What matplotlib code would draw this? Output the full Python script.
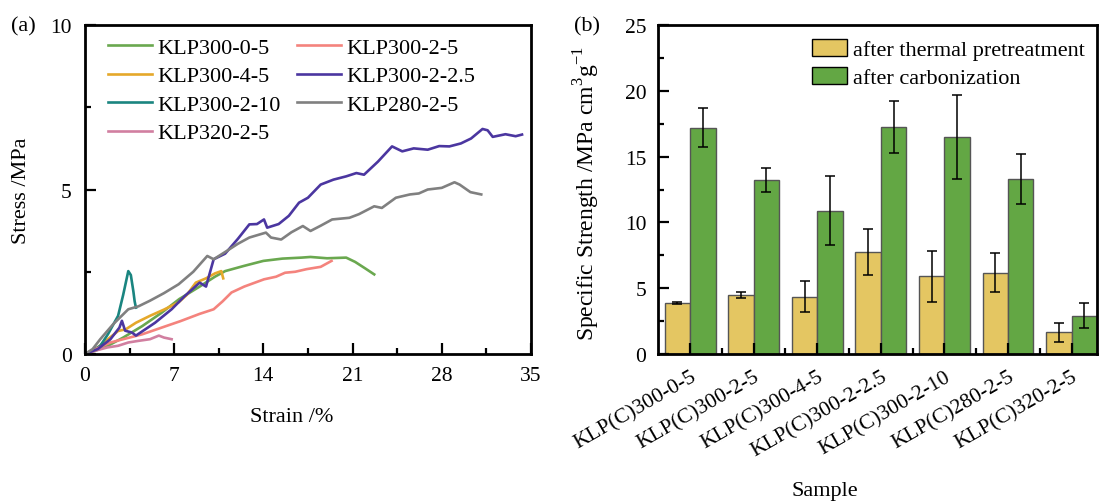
import numpy as np
import matplotlib
matplotlib.use('Agg')
import matplotlib.pyplot as plt
import matplotlib.transforms as mtransforms
from matplotlib.ticker import MultipleLocator

plt.rcParams['font.family'] = ['Liberation Serif', 'DejaVu Serif']
plt.rcParams['mathtext.fontset'] = 'custom'
plt.rcParams['mathtext.rm'] = 'Liberation Serif'

# ---- panel (a): stress-strain curves ----
x_300_0_5 = [0, 0.8, 1.8, 3.0, 4.5, 6.0, 7.4, 9.0, 10.2, 11.0, 12.5, 14.0, 15.5, 17.0, 17.7, 19.0, 20.5, 21.2, 22.0, 22.7]
y_300_0_5 = [0, 0.1, 0.25, 0.5, 0.85, 1.25, 1.67, 2.05, 2.35, 2.52, 2.68, 2.83, 2.9, 2.93, 2.95, 2.91, 2.93, 2.8, 2.6, 2.42]

x_300_4_5 = [0, 1.0, 1.8, 2.6, 3.2, 4.0, 5.1, 6.2, 7.35, 8.0, 8.7, 9.5, 10.2, 10.7, 10.85]
y_300_4_5 = [0, 0.2, 0.45, 0.7, 0.75, 0.95, 1.16, 1.35, 1.57, 1.8, 2.17, 2.3, 2.45, 2.52, 2.3]

x_300_2_10 = [0, 0.5, 1.2, 1.8, 2.3, 2.6, 3.0, 3.4, 3.6, 3.8, 3.9, 4.0]
y_300_2_10 = [0, 0.08, 0.25, 0.6, 0.95, 1.16, 1.8, 2.52, 2.4, 1.9, 1.6, 1.41]

x_320_2_5 = [0, 0.8, 1.76, 2.6, 3.4, 4.2, 5.1, 5.8, 6.2, 6.8]
y_320_2_5 = [0, 0.1, 0.2, 0.25, 0.35, 0.4, 0.45, 0.56, 0.5, 0.45]

x_300_2_5 = [0, 1.0, 2.0, 3.0, 4.5, 6.0, 7.5, 9.0, 10.1, 10.8, 11.5, 12.5, 14.05, 15.0, 15.7, 16.5, 17.4, 18.5, 19.35]
y_300_2_5 = [0, 0.18, 0.35, 0.45, 0.6, 0.8, 1.0, 1.22, 1.36, 1.6, 1.87, 2.05, 2.27, 2.35, 2.47, 2.5, 2.58, 2.65, 2.83]

x_300_2_2_5 = [0, 1.0, 2.0, 2.7, 2.9, 3.15, 3.7, 4.0, 5.5, 6.8, 7.8, 9.0, 9.5, 10.1, 11.0, 12.0, 12.9, 13.5, 14.05, 14.3,
               15.2, 16.0, 16.8, 17.5, 18.5, 19.5, 20.5, 21.3, 21.9, 23.0, 24.1, 24.9, 25.8, 26.9, 27.8, 28.6, 29.5, 30.3, 31.2, 31.6, 32.0, 33.0, 33.8, 34.3]
y_300_2_2_5 = [0, 0.15, 0.45, 0.8, 1.01, 0.71, 0.65, 0.56, 0.95, 1.36, 1.75, 2.17, 2.05, 2.88, 3.05, 3.5, 3.94, 3.95, 4.09, 3.84,
               3.95, 4.2, 4.6, 4.75, 5.15, 5.3, 5.4, 5.5, 5.45, 5.85, 6.31, 6.16, 6.25, 6.21, 6.32, 6.31, 6.4, 6.55, 6.84, 6.8, 6.6, 6.68, 6.62, 6.67]

x_280_2_5 = [0, 0.6, 1.2, 2.2, 3.4, 4.2, 5.1, 6.2, 7.35, 8.5, 9.6, 10.1, 11.2, 12.0, 12.9, 14.2, 14.6, 15.4, 16.2, 17.1, 17.7,
             18.5, 19.4, 20.75, 21.5, 22.7, 23.3, 24.4, 25.5, 26.2, 26.9, 28.0, 29.0, 29.4, 30.25, 31.1]
y_280_2_5 = [0, 0.15, 0.45, 0.9, 1.36, 1.45, 1.62, 1.85, 2.12, 2.5, 2.98, 2.88, 3.15, 3.35, 3.54, 3.69, 3.54, 3.48, 3.7, 3.89, 3.74,
             3.9, 4.09, 4.14, 4.25, 4.49, 4.44, 4.75, 4.85, 4.88, 5.0, 5.05, 5.22, 5.15, 4.92, 4.85]

curves = [
    ('KLP300-0-5', x_300_0_5, y_300_0_5, '#6aa84f'),
    ('KLP300-4-5', x_300_4_5, y_300_4_5, '#e5a82a'),
    ('KLP300-2-10', x_300_2_10, y_300_2_10, '#1a8580'),
    ('KLP320-2-5', x_320_2_5, y_320_2_5, '#d17fa0'),
    ('KLP300-2-5', x_300_2_5, y_300_2_5, '#f4837d'),
    ('KLP300-2-2.5', x_300_2_2_5, y_300_2_2_5, '#4b36a0'),
    ('KLP280-2-5', x_280_2_5, y_280_2_5, '#808080'),
]

# ---- panel (b): specific strength bars ----
samples = ['KLP(C)300-0-5', 'KLP(C)300-2-5', 'KLP(C)300-4-5', 'KLP(C)300-2-2.5',
           'KLP(C)300-2-10', 'KLP(C)280-2-5', 'KLP(C)320-2-5']
pretreat = [3.86, 4.49, 4.36, 7.72, 5.89, 6.19, 1.65]
pretreat_err = [0.08, 0.2, 1.18, 1.75, 1.9, 1.5, 0.7]
carbon = [17.2, 13.22, 10.89, 17.26, 16.47, 13.3, 2.92]
carbon_err = [1.5, 0.94, 2.64, 1.95, 3.2, 1.9, 0.95]


def style_axes(ax):
    for s in ax.spines.values():
        s.set_linewidth(2)
    ax.tick_params(which='both', direction='in', top=False, right=False, labelsize=15.5, width=1.6)
    ax.tick_params(which='major', length=8)
    ax.tick_params(which='minor', length=4.5)
    ax.tick_params(axis='x', which='major', pad=8.5)
    ax.tick_params(axis='y', which='major', pad=9.5)


fig = plt.figure(figsize=(11.02, 5.02), dpi=100)
ax1 = fig.add_axes([0.0771, 0.2928, 0.4047, 0.6554])
ax2 = fig.add_axes([0.5971, 0.2928, 0.3984, 0.6554])

for label, xs, ys, c in curves:
    ax1.plot(xs, ys, color=c, lw=1.9, label=label)

ax1.set_xlim(0, 35)
ax1.set_ylim(0, 10)
ax1.xaxis.set_major_locator(MultipleLocator(7))
ax1.xaxis.set_minor_locator(MultipleLocator(3.5))
ax1.yaxis.set_major_locator(MultipleLocator(5))
ax1.yaxis.set_minor_locator(MultipleLocator(2.5))
style_axes(ax1)
ax1.set_xlabel('Strain /%', fontsize=16)
ax1.xaxis.set_label_coords(0.464, -0.16)
ax1.set_ylabel('Stress /MPa', fontsize=16)
ax1.yaxis.set_label_coords(-0.121, 0.5)
ax1.legend(ncol=2, loc='upper left', frameon=False, fontsize=16, handlelength=2.0,
           handletextpad=0.23, columnspacing=0.72, labelspacing=0.36,
           borderpad=0, borderaxespad=0, bbox_to_anchor=(0.0516, 0.963))
fig.text(23 / 1102, 1 - 27 / 502, '(a)', fontsize=16, va='center', ha='center')

pos = np.arange(len(samples))
w = 0.4
ax2.bar(pos - w / 2, pretreat, w, yerr=pretreat_err, color='#e4c662', edgecolor='#555555', lw=1,
        error_kw=dict(ecolor='black', elinewidth=1.1, capsize=3.6, capthick=1.1),
        label='after thermal pretreatment')
ax2.bar(pos + w / 2, carbon, w, yerr=carbon_err, color='#63a744', edgecolor='#555555', lw=1,
        error_kw=dict(ecolor='black', elinewidth=1.1, capsize=3.6, capthick=1.1),
        label='after carbonization')

ax2.set_xlim(-0.505, 6.4)
ax2.set_ylim(0, 25)
ax2.set_xticks(pos)
ax2.set_xticks(pos[:-1] + 0.5, minor=True)
ax2.set_xticklabels(samples, rotation=30, ha='right', va='top', rotation_mode='anchor', fontsize=16.5)
shift = mtransforms.ScaledTranslation(0.08, 0, fig.dpi_scale_trans)
for t in ax2.get_xticklabels():
    t.set_transform(t.get_transform() + shift)
ax2.yaxis.set_major_locator(MultipleLocator(5))
ax2.yaxis.set_minor_locator(MultipleLocator(2.5))
style_axes(ax2)
ax2.tick_params(axis='x', which='major', pad=9.5)
ax2.tick_params(axis='y', which='major', pad=8.5)
ax2.set_xlabel('Sample', fontsize=16)
ax2.xaxis.set_label_coords(0.38, -0.385)
ax2.set_ylabel('Specific Strength /MPa cm$^3$g$^{-1}$', fontsize=17)
ax2.yaxis.set_label_coords(-0.128, 0.49)
leg = ax2.legend(loc='upper right', frameon=False, fontsize=16, handlelength=1.55, handleheight=0.8,
                 handletextpad=0.28, labelspacing=0.3, borderpad=0, borderaxespad=0,
                 bbox_to_anchor=(0.972, 0.957))
for p in leg.get_patches():
    p.set_edgecolor('black')
fig.text(587 / 1102, 1 - 27 / 502, '(b)', fontsize=16, va='center', ha='center')

fig.savefig('out.png', dpi=100)
